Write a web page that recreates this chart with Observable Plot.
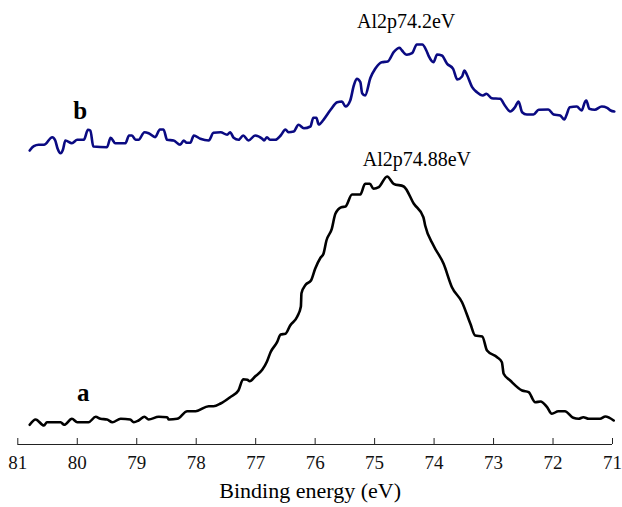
<!DOCTYPE html>
<html>
<head>
<meta charset="utf-8">
<script src="https://cdn.jsdelivr.net/npm/d3@7"></script>
<script src="https://cdn.jsdelivr.net/npm/@observablehq/plot@0.6"></script>
<style>
  html, body { margin: 0; padding: 0; background: #fff; }
  #chart svg { display: block; }
  #chart svg text { font-family: "Liberation Serif", "Times New Roman", serif; }
</style>
</head>
<body>
<div id="chart"></div>
<script>
// Binding energy (eV) and intensity (a.u.)
const energyA = [80.80,80.70,80.56,80.51,80.28,80.22,80.09,80.00,79.81,79.69,79.61,79.50,79.41,79.27,79.11,79.05,78.97,78.87,78.80,78.63,78.49,78.46,78.32,78.15,78.01,77.79,77.71,77.59,77.43,77.29,77.21,77.14,77.10,77.01,76.89,76.81,76.75,76.64,76.58,76.50,76.42,76.30,76.24,76.23,76.16,76.07,76.00,75.91,75.86,75.81,75.72,75.66,75.56,75.49,75.38,75.24,75.16,75.08,75.02,74.93,74.79,74.68,74.51,74.34,74.18,74.15,74.01,73.84,73.70,73.53,73.39,73.31,73.19,73.11,72.94,72.86,72.83,72.72,72.52,72.41,72.30,72.21,72.10,72.02,71.91,71.80,71.66,71.57,71.49,71.40,71.21,71.12,70.98];
const intensityA = [19.7,25,19,22.3,22.3,19.7,25.7,22.3,22.3,27.7,25.7,25,22.3,25.7,25,22.3,24,27.7,25,27.7,27.3,25,25.7,33.3,33.3,38.3,38.3,41,47.3,54,65.3,64.7,63.3,68,74.7,83,92.3,102.3,110,110.7,119,128,138,151.3,159.7,164,175.7,186.7,190.7,204,215.7,230.7,237.3,238,250,250,260.7,260.7,255.7,257.3,268,260.7,258,240.7,227.3,219,199,180.7,157.3,142.3,120.7,109,108,94,87.3,82.3,70.7,64,54,52.3,42.3,43,37.3,30.7,33.3,33.3,26.7,25.7,27.3,25.7,25.7,28,24];

const energyB = [80.80,80.73,80.65,80.56,80.42,80.37,80.33,80.28,80.24,80.20,80.09,80.00,79.89,79.82,79.78,79.73,79.50,79.44,79.36,79.19,79.13,79.08,79.02,78.97,78.87,78.80,78.69,78.61,78.55,78.49,78.38,78.27,78.21,78.16,78.10,78.04,77.93,77.79,77.71,77.59,77.48,77.43,77.37,77.29,77.21,77.12,77.01,76.89,76.86,76.81,76.76,76.67,76.58,76.50,76.45,76.36,76.28,76.19,76.08,76.03,75.98,75.94,75.86,75.74,75.63,75.55,75.49,75.41,75.35,75.30,75.24,75.21,75.16,75.07,74.99,74.88,74.78,74.68,74.58,74.54,74.46,74.37,74.29,74.20,74.13,74.09,74.01,73.95,73.87,73.78,73.68,73.61,73.53,73.49,73.45,73.36,73.28,73.18,73.12,73.03,72.89,72.81,72.72,72.64,72.58,72.52,72.44,72.33,72.24,72.08,71.99,71.88,71.81,71.77,71.72,71.60,71.52,71.46,71.44,71.39,71.30,71.18,71.09,71.03,70.97];
const intensityB = [294,298.3,299.7,299.7,307.3,304,295.7,291.3,295,304,301.3,304.7,304.7,314.7,314,298,297.3,306.7,301.3,301.3,309,309,304.7,304.7,312.3,311.3,307.3,315,315,304.7,304,299.7,304,301.7,301.7,309,305.7,304,311.7,312.3,309.7,312.3,306.7,304.7,309,304,309,305.7,304,307.3,304.7,304.7,309,315,312.3,313,319.7,316.3,318,326.7,326.7,320,324.7,334.7,342.3,343,338,344,359,365.7,362.3,351.3,349,366.7,375.7,382.3,383,392.3,396.7,394,389.7,391.3,400,400,394,388.3,382.3,390,389,380.7,375.7,365,368,374,370,357.3,352.3,349,350.7,346.3,345.7,339,333,337.3,343,332.3,330,330,334.7,335,330,329,325,330,337.3,338,334,343,344,335.7,334.7,338,336.7,334,333];

const xTicks = [81,80,79,78,77,76,75,74,73,72,71];
const curveLabels = ["a", "b"];
const labelEnergy = [79.90, 79.95];
const labelIntensity = [52, 334];
const peakLabels = ["Al2p74.88eV", "Al2p74.2eV"];
const peakEnergy = [74.29, 74.47];
const peakIntensity = [285, 423];
const xTitle = "Binding energy (eV)";

const serif = "Liberation Serif";

const seriesA = energyA.map((e, i) => ({e, v: intensityA[i]}));
const seriesB = energyB.map((e, i) => ({e, v: intensityB[i]}));
const curveTable = curveLabels.map((t, i) => ({t, e: labelEnergy[i], v: labelIntensity[i]}));
const peakTable = peakLabels.map((t, i) => ({t, e: peakEnergy[i], v: peakIntensity[i]}));

const chart = Plot.plot({
  width: 622,
  height: 507,
  marginLeft: 17.3,
  marginRight: 10,
  marginTop: 0,
  marginBottom: 63,
  style: {fontFamily: serif, fontSize: "19px", color: "#111", background: "#fff"},
  x: {domain: [81, 71], axis: null},
  y: {domain: [0, 444], axis: null},
  marks: [
    Plot.ruleY([0], {stroke: "#222", strokeWidth: 1}),
    Plot.axisX({ticks: xTicks, tickSize: -6, tickPadding: 17, tickFormat: d => String(d), fontSize: 19, fontFamily: serif, label: null, stroke: "#222"}),
    Plot.line(seriesA, {x: "e", y: "v", stroke: "#000", strokeWidth: 2.6, strokeLinejoin: "round", curve: "monotone-x"}),
    Plot.line(seriesB, {x: "e", y: "v", stroke: "#0a0a82", strokeWidth: 2.6, strokeLinejoin: "round", curve: "monotone-x"}),
    Plot.text(curveTable, {x: "e", y: "v", text: "t", fontSize: 25, fontWeight: "bold", fontFamily: serif, fill: "#000"}),
    Plot.text(peakTable, {x: "e", y: "v", text: "t", fontSize: 20, fontFamily: serif, fill: "#000"}),
    Plot.text([xTitle], {frameAnchor: "bottom", dy: 53, dx: -5, fontSize: 22, fontFamily: serif, fill: "#000"})
  ]
});
document.getElementById("chart").appendChild(chart);
</script>
</body>
</html>
